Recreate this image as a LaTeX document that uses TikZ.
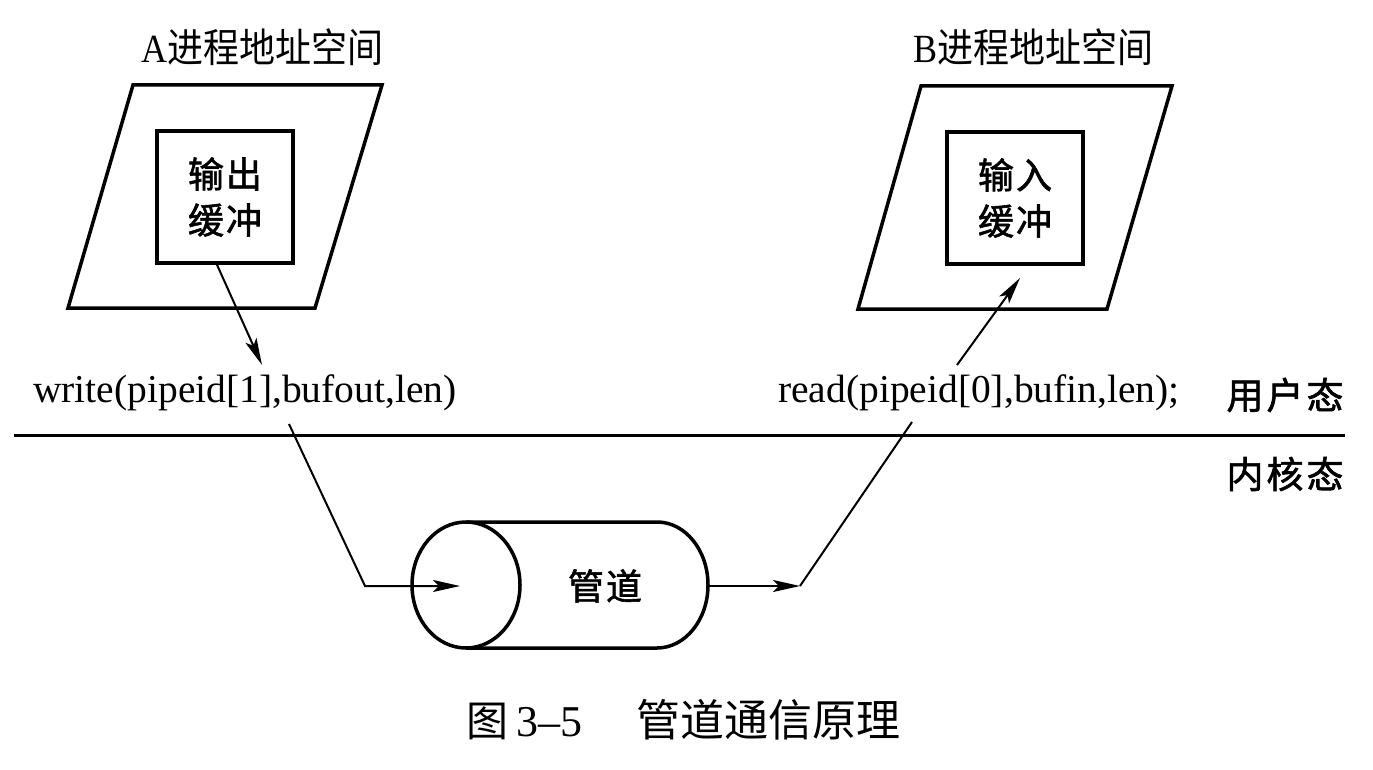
\documentclass[tikz,border=0pt]{standalone}
\usepackage{fontspec}
\setmainfont{Liberation Serif}
\newfontfamily\cjk{Noto Sans CJK SC}
\newfontfamily\cjkb[FakeBold=1.6]{Noto Sans CJK SC}
\usetikzlibrary{arrows.meta,calc}
\begin{document}
\begin{tikzpicture}[x=1pt,y=-1pt,
  frame/.style={line width=3.5pt,line join=miter},
  conn/.style={line width=2pt},
  arr/.style={conn,-{Stealth[length=27pt,width=12pt,inset=6pt]}},
  bufbox/.style={draw,line width=3.5pt,inner sep=0pt,align=center,
    minimum width=136pt,minimum height=132pt,
    font=\fontsize{36pt}{46pt}\selectfont\cjkb},
  code/.style={inner sep=0pt,anchor=base west,font=\fontsize{39.5pt}{40pt}\selectfont},
  side/.style={inner sep=0pt,font=\fontsize{37pt}{37pt}\selectfont\cjkb},
  title/.style={inner sep=0pt,font=\fontsize{40pt}{40pt}\selectfont},
  pipelbl/.style={inner sep=0pt,font=\fontsize{36pt}{36pt}\selectfont\cjkb}]
\useasboundingbox (0,0) rectangle (1373,770);
\fill[white] (0,0) rectangle (1373,770);

% titles
\node[title] (tA) at (262,47) {\scalebox{0.9}[1]{A{\cjk 进程地址空间}}};
\node[title] (tB) at (1033,47) {\scalebox{0.9}[1]{B{\cjk 进程地址空间}}};

% address spaces
\draw[frame] (133,85) -- (382,85) -- (315,308) -- (68,308) -- cycle;
\draw[frame] (921,86) -- (1172,86) -- (1107,309) -- (858,309) -- cycle;

% buffers
\node[bufbox] (bufA) at (225,197) {输\hspace{2pt}出\\缓\hspace{2pt}冲};
\node[bufbox] (bufB) at (1015,198) {输\hspace{2pt}入\\缓\hspace{2pt}冲};

% system calls
\node[code] (wr) at (33,402) {write(pipeid[1],bufout,len)};
\node[code] (rd) at (778,402) {read(pipeid[0],bufin,len);};

% modes
\node[side] (user) at (1285,395) {用\hspace{3pt}户\hspace{3pt}态};
\node[side] (kern) at (1285,474) {内\hspace{3pt}核\hspace{3pt}态};
\coordinate (ruleL) at (14,435);
\coordinate (ruleR) at (1345,435);
\draw[line width=3pt] (ruleL) -- (ruleR);

% pipe
\draw[frame] (466,522) -- (657,522)
  arc[start angle=-90,end angle=90,x radius=51,y radius=63] -- (466,648);
\draw[frame] (466,585) ellipse[x radius=54,y radius=63];
\node[pipelbl] (pipe) at (605,586) {管\hspace{2pt}道};

% connectors
\coordinate (wtip) at (262,365);
\draw[arr] ($(bufA.south)+(-8,0)$) -- (wtip);
\coordinate (rtail) at (957,365);
\coordinate (rtip) at (1020,278);
\draw[arr] (rtail) -- (rtip);

\coordinate (win) at (289,424);
\coordinate (wbend) at (365,586);
\coordinate (pin) at (460,586);
\draw[arr] (win) -- (wbend) -- (pin);

\coordinate (pout) at (709,586);
\coordinate (rbend) at (800,586);
\coordinate (rin) at (912,422);
\draw[arr] (pout) -- (rbend);
\draw[conn] (rbend) -- (rin);

% caption
\node[anchor=west,inner sep=0pt,font=\fontsize{42pt}{42pt}\selectfont] (cap) at (466,720)
  {{\cjk 图}\hspace{8pt}{\fontsize{44pt}{44pt}\selectfont 3–5}\hspace{54pt}{\fontsize{44pt}{44pt}\selectfont\cjk 管道通信原理}};
\end{tikzpicture}
\end{document}
